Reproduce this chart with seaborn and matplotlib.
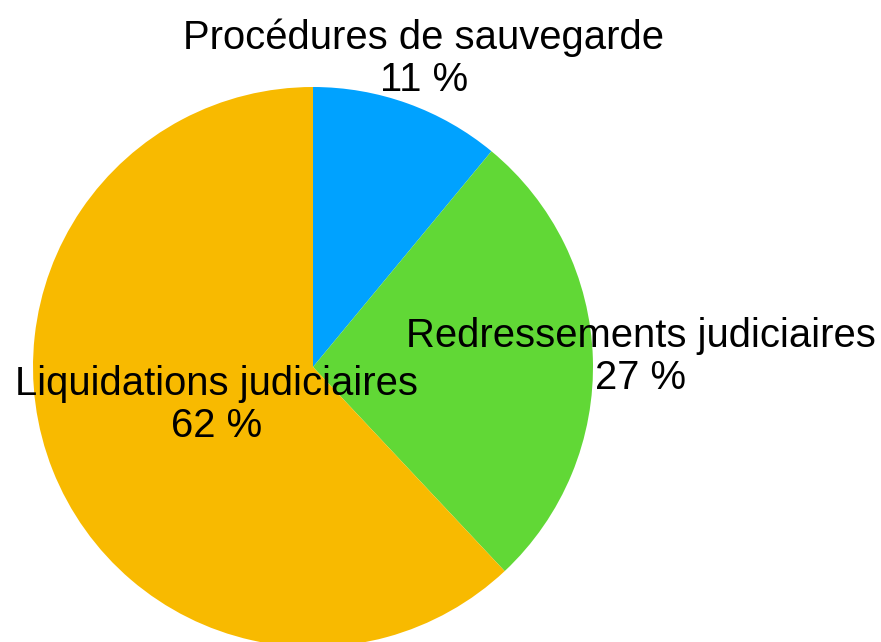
import numpy as np
import matplotlib
matplotlib.use('Agg')
import matplotlib.pyplot as plt
import seaborn as sns

sns.set_theme(style='white')
plt.rcParams['font.family'] = ['Liberation Sans', 'DejaVu Sans']

# data
categories = ['Procédures de sauvegarde', 'Redressements judiciaires', 'Liquidations judiciaires']
shares = [11, 27, 62]
colors = ['#00A2FF', '#61D836', '#F8BA00']
label_dist = [1.17, 1.17, 0.37]

W, H = 881, 642
fig = plt.figure(figsize=(W / 100, H / 100), dpi=100)
ax = fig.add_axes([0, 0, 1, 1])
ax.set_xlim(0, W)
ax.set_ylim(0, H)
ax.set_aspect('equal')
ax.axis('off')

center = (313, H - 367)
radius = 280

labels = [f'{c}\n{v} %' for c, v in zip(categories, shares)]
wedges, texts = ax.pie(shares, colors=colors, labels=labels, startangle=90,
                       counterclock=False, center=center, radius=radius,
                       labeldistance=1.17, wedgeprops={'linewidth': 0},
                       textprops={'fontsize': 28.8, 'color': 'black'})
ax.set_xlim(0, W)
ax.set_ylim(0, H)

for w, t, d in zip(wedges, texts, label_dist):
    ang = np.deg2rad((w.theta1 + w.theta2) / 2)
    t.set_position((center[0] + d * radius * np.cos(ang),
                    center[1] + d * radius * np.sin(ang)))
    t.set_ha('center')
    t.set_va('center')
    t.set_multialignment('center')
    t.set_linespacing(1.12)

fig.savefig('out.png', dpi=100)
